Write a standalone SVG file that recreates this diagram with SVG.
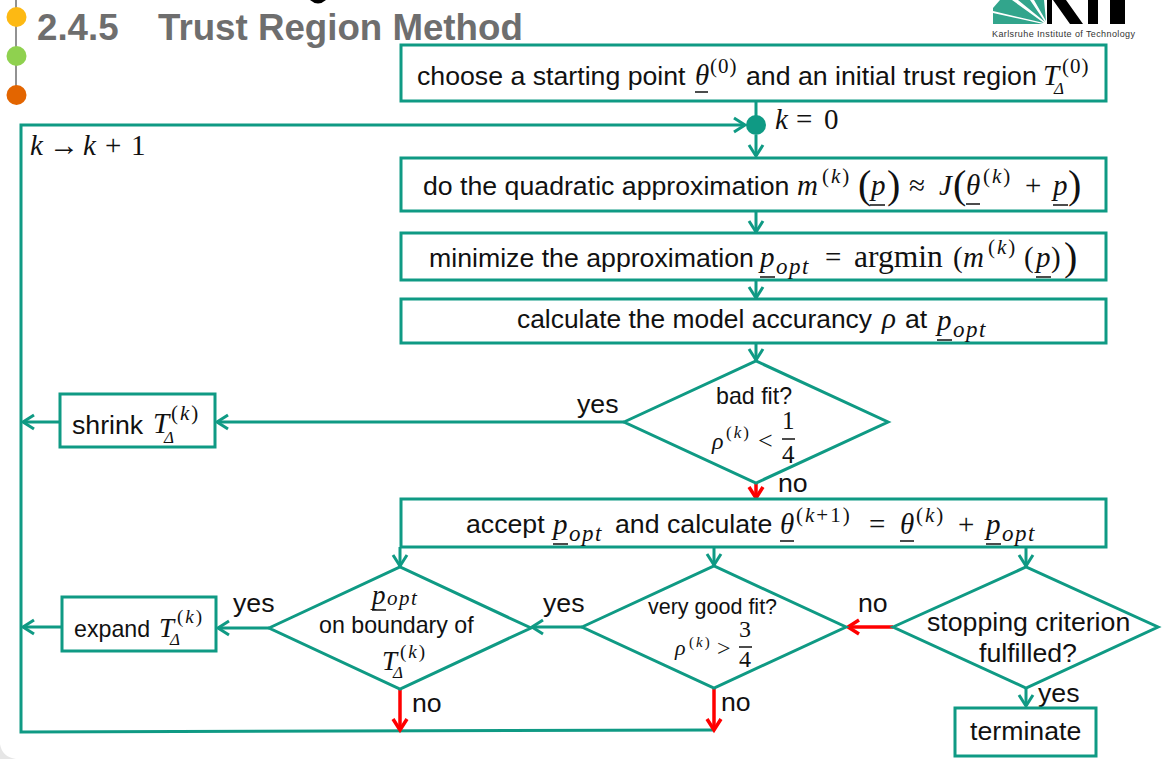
<svg xmlns="http://www.w3.org/2000/svg" width="1165" height="759" viewBox="0 0 1165 759">
<style>
.n{fill:#fff;stroke:#0f9a84;stroke-width:3}
.c{fill:none;stroke:#0f9a84;stroke-width:3}
.r{fill:none;stroke:#f00;stroke-width:3.5}
.u{stroke:#111;stroke-width:1.5;fill:none}
text{font-family:"Liberation Sans",Arial,sans-serif;font-size:26.7px;fill:#111}
.d{font-size:23.200px}
.m{font-family:"Liberation Serif","Times New Roman",serif;font-style:italic;font-size:29px}
.mu{font-family:"Liberation Serif","Times New Roman",serif;font-size:29px}
.sup{font-family:"Liberation Serif","Times New Roman",serif;font-size:21px;letter-spacing:2px}
.sup tspan{font-style:italic}
.sub{font-family:"Liberation Serif","Times New Roman",serif;font-style:italic;font-size:23px;letter-spacing:1.500px}
.dl{font-family:"Liberation Serif","Times New Roman",serif;font-style:italic;font-size:17px}
.big{font-family:"Liberation Serif","Times New Roman",serif;font-size:40px}
.t{font-weight:bold;font-size:36.700px;fill:#6e6e6e}
</style>
<defs>
<marker id="g" markerUnits="userSpaceOnUse" markerWidth="18" markerHeight="20" refX="14" refY="10" orient="auto"><path d="M3 3L14 10L3 17" fill="none" stroke="#0f9a84" stroke-width="3"/></marker>
<marker id="rd" markerUnits="userSpaceOnUse" markerWidth="18" markerHeight="20" refX="14" refY="10" orient="auto"><path d="M3 3L14 10L3 17" fill="none" stroke="#f00" stroke-width="3.5"/></marker>
</defs>
<rect width="1165" height="759" fill="#fff"/>
<path d="M0 744Q2 757 16 759H0Z" fill="#e6e6e6"/>
<g id="decor">
<path d="M16 0V95" stroke="#6e6e6e" stroke-width="1.5"/>
<circle cx="16.500" cy="17" r="10" fill="#fdb913"/>
<circle cx="16.500" cy="56" r="10" fill="#8fd14f"/>
<circle cx="16.500" cy="95" r="10" fill="#e36500"/>
<path d="M310 0Q318 7 326 0Z" fill="#000"/>
<text class="t" x="37" y="40">2.4.5</text>
<text class="t" x="158" y="40">Trust Region Method</text>
</g>
<g id="logo">
<path d="M993 24V13L1043 24ZM993 11V8L1000 0H1012L1044 23ZM1018 0H1030L1045 22ZM1034 0H1044L1046 21Z" fill="#32a58c"/>
<path d="M1047 0H1052V24H1047ZM1053 0H1066L1083 24H1070Z" fill="#000"/>
<path d="M1088 0H1098V24H1088ZM1110 0H1125V24H1110Z" fill="#000"/>
<text x="992" y="37" style="font-size:9px;fill:#333" textLength="143">Karlsruhe Institute of Technology</text>
</g>
<g id="connectors">
<path class="c" d="M714 730L21 732V125H745" marker-end="url(#g)"/>
<path class="c" d="M756 101V116"/>
<path class="c" d="M756 135V156" marker-end="url(#g)"/>
<path class="c" d="M756 211V232" marker-end="url(#g)"/>
<path class="c" d="M756 280V298" marker-end="url(#g)"/>
<path class="c" d="M756 343V360" marker-end="url(#g)"/>
<path class="c" d="M624 422H217" marker-end="url(#g)"/>
<path class="c" d="M60 422H23" marker-end="url(#g)"/>
<path class="r" d="M756 483V498" marker-end="url(#rd)"/>
<path class="c" d="M400 547V566" marker-end="url(#g)"/>
<path class="c" d="M714 547V565" marker-end="url(#g)"/>
<path class="c" d="M1026 547V566" marker-end="url(#g)"/>
<path class="c" d="M582 627H532" marker-end="url(#g)"/>
<path class="c" d="M269 628H218" marker-end="url(#g)"/>
<path class="c" d="M62 627H23" marker-end="url(#g)"/>
<path class="r" d="M893 627H848" marker-end="url(#rd)"/>
<path class="r" d="M400 689V730" marker-end="url(#rd)"/>
<path class="r" d="M714 688V730" marker-end="url(#rd)"/>
<path class="c" d="M1026 688V706" marker-end="url(#g)"/>
</g>
<g id="labels">
<text class="m" x="30" y="155">k</text><text class="mu" x="49" y="155" style="font-size:30px">→</text><text class="m" x="83" y="155">k</text><text class="mu" x="105" y="155">+</text><text class="mu" x="131" y="155">1</text>
<text class="m" x="775" y="129">k</text><text class="mu" x="796" y="129">=</text><text class="mu" x="824" y="129">0</text>
<text x="577" y="413">yes</text><text x="778" y="492">no</text>
<text x="233" y="612">yes</text><text x="543" y="612">yes</text>
<text x="858" y="612">no</text><text x="412" y="712">no</text><text x="721" y="711">no</text><text x="1038" y="702">yes</text>
</g>
<g id="start">
<rect class="n" x="401" y="45" width="705" height="56"/>
<text x="417" y="85">choose a starting point</text>
<text class="m" x="695" y="85">θ</text><path class="u" d="M695 92H708"/><text class="sup" x="710" y="73" style="letter-spacing:1px">(0)</text>
<text x="746" y="85">and an initial trust region</text>
<text class="m" x="1043" y="85">T</text><text class="dl" x="1054" y="94">Δ</text><text class="sup" x="1062" y="73" style="letter-spacing:1px">(0)</text>
</g>
<g id="dot"><circle cx="756" cy="125" r="10" fill="#0f9a84"/></g>
<g id="quad">
<rect class="n" x="401" y="158" width="705" height="53"/>
<text x="423" y="195">do the quadratic approximation</text>
<text class="m" x="797" y="195">m</text><text class="sup" x="822" y="183">(<tspan>k</tspan>)</text>
<text class="big" x="858" y="198">(</text><text class="m" x="871" y="195">p</text><path class="u" d="M870 205H885"/><text class="big" x="887" y="198">)</text>
<text class="mu" x="909" y="195">≈</text><text class="m" x="939" y="195">J</text><text class="big" x="953" y="198">(</text>
<text class="m" x="966" y="195">θ</text><path class="u" d="M966 204H980"/><text class="sup" x="983" y="183">(<tspan>k</tspan>)</text>
<text class="mu" x="1025" y="195">+</text><text class="m" x="1053" y="195">p</text><path class="u" d="M1053 205H1068"/><text class="big" x="1068" y="198">)</text>
</g>
<g id="minimize">
<rect class="n" x="401" y="233" width="705" height="47"/>
<text x="429" y="267">minimize the approximation</text>
<text class="m" x="760" y="267">p</text><path class="u" d="M760 277H775"/><text class="sub" x="776" y="274">opt</text>
<text class="mu" x="825" y="267">=</text><text class="mu" x="854" y="267" style="font-size:31.500px">argmin</text>
<text class="mu" x="953" y="267">(</text><text class="m" x="963" y="267">m</text><text class="sup" x="988" y="254">(<tspan>k</tspan>)</text>
<text class="mu" x="1024" y="267">(</text><text class="m" x="1036" y="267">p</text><path class="u" d="M1036 277H1051"/><text class="mu" x="1051" y="267">)</text><text class="big" x="1064" y="270">)</text>
</g>
<g id="accuracy">
<rect class="n" x="401" y="299" width="705" height="44"/>
<text x="517" y="328" style="font-size:26.400px">calculate the model accurancy</text>
<text class="m" x="882" y="328">ρ</text><text x="905" y="328">at</text>
<text class="m" x="937" y="330">p</text><path class="u" d="M937 340H952"/><text class="sub" x="953" y="337">opt</text>
</g>
<g id="badfit">
<path class="n" d="M624 422L756 361L888 422L756 483Z"/>
<text class="d" x="716" y="404">bad fit?</text>
<text class="m" x="712" y="449" style="font-size:24px">ρ</text><text class="sup" x="726" y="438" style="font-size:17px">(<tspan>k</tspan>)</text><text class="mu" x="758" y="449" style="font-size:26px">&lt;</text>
<text class="mu" x="782" y="429" style="font-size:25px">1</text><path d="M782 439H795" stroke="#111" stroke-width="1.500"/><text class="mu" x="782" y="463" style="font-size:25px">4</text>
</g>
<g id="shrink">
<rect class="n" x="60" y="394" width="155" height="53"/>
<text x="72" y="434">shrink</text>
<text class="m" x="153" y="433">T</text><text class="dl" x="164" y="443">Δ</text><text class="sup" x="171" y="420">(<tspan>k</tspan>)</text>
</g>
<g id="accept">
<rect class="n" x="401" y="499" width="705" height="48"/>
<text x="466" y="533">accept</text>
<text class="m" x="553" y="534">p</text><path class="u" d="M553 544H568"/><text class="sub" x="569" y="541">opt</text>
<text x="615" y="533">and calculate</text>
<text class="m" x="780" y="534">θ</text><path class="u" d="M780 541H794"/><text class="sup" x="796" y="522">(<tspan>k</tspan>+1)</text>
<text class="mu" x="869" y="534">=</text>
<text class="m" x="900" y="534">θ</text><path class="u" d="M900 541H914"/><text class="sup" x="916" y="522">(<tspan>k</tspan>)</text>
<text class="mu" x="958" y="534">+</text>
<text class="m" x="986" y="534">p</text><path class="u" d="M986 544H1001"/><text class="sub" x="1002" y="541">opt</text>
</g>
<g id="boundary">
<path class="n" d="M269 628L400 567L531 628L400 689Z"/>
<text class="m" x="372" y="604" style="font-size:27px">p</text><path class="u" d="M372 610H386"/><text class="sub" x="387" y="605" style="font-size:21px">opt</text>
<text class="d" x="319" y="633">on boundary of</text>
<text class="m" x="382" y="670" style="font-size:27px">T</text><text class="dl" x="393" y="678">Δ</text><text class="sup" x="400" y="658" style="font-size:19px">(<tspan>k</tspan>)</text>
</g>
<g id="expand">
<rect class="n" x="62" y="597" width="154" height="54"/>
<text class="d" x="74" y="637">expand</text>
<text class="m" x="159" y="637" style="font-size:27px">T</text><text class="dl" x="170" y="645">Δ</text><text class="sup" x="177" y="623" style="font-size:19px">(<tspan>k</tspan>)</text>
</g>
<g id="verygood">
<path class="n" d="M582 627L714 566L846 627L714 688Z"/>
<text x="648" y="614" style="font-size:21.500px">very good fit?</text>
<text class="m" x="675" y="655" style="font-size:22px">ρ</text><text class="sup" x="689" y="647" style="font-size:15px">(<tspan>k</tspan>)</text><text class="mu" x="717" y="656" style="font-size:24px">&gt;</text>
<text class="mu" x="739" y="637" style="font-size:24px">3</text><path d="M739 647H752" stroke="#111" stroke-width="1.500"/><text class="mu" x="739" y="667" style="font-size:24px">4</text>
</g>
<g id="stopping">
<path class="n" d="M893 627L1026 567L1158 627L1026 688Z"/>
<text x="927" y="631">stopping criterion</text>
<text x="979" y="662">fulfilled?</text>
</g>
<g id="terminate">
<rect class="n" x="955" y="708" width="141" height="48"/>
<text x="970" y="740">terminate</text>
</g>
</svg>
